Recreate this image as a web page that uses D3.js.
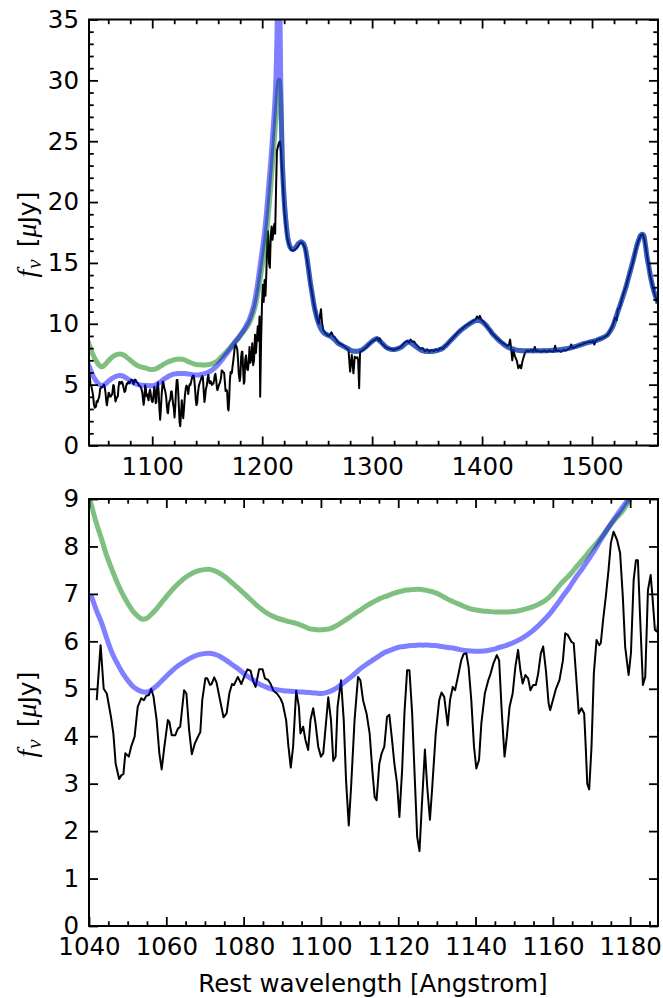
<!DOCTYPE html>
<html>
<head>
<meta charset="utf-8">
<script src="https://cdn.jsdelivr.net/npm/d3@7"></script>
<style>
  html, body { margin: 0; padding: 0; background: #fff; }
  svg { display: block; }
  text { font-family: "DejaVu Sans", sans-serif; fill: #000; }
</style>
</head>
<body>
<svg id="chart" width="663" height="998"></svg>
<script>
// Observed spectrum: [rest wavelength (Angstrom), f_nu (microJy)]
const observed = [
  [1042.0,4.76],[1043.0,5.92],[1043.8,5.00],[1044.6,4.90],[1045.7,4.40],[1046.3,4.06],[1046.9,3.42],
  [1047.8,3.10],[1048.4,3.18],[1048.9,3.20],[1049.4,3.64],[1050.3,3.57],[1050.9,3.78],[1051.8,3.99],
  [1052.6,4.62],[1053.5,4.80],[1054.2,4.76],[1054.8,4.85],[1055.5,4.87],[1056.1,5.00],[1056.7,4.83],
  [1057.5,4.34],[1058.2,3.64],[1058.8,3.30],[1059.5,3.78],[1060.4,4.34],[1060.8,4.30],[1061.4,4.02],
  [1062.3,4.02],[1063.0,4.16],[1063.6,4.20],[1064.6,4.97],[1065.2,4.90],[1065.9,4.13],[1066.6,3.62],
  [1067.4,3.85],[1068.2,3.99],[1068.8,4.09],[1069.3,4.76],[1070.1,5.22],[1070.6,5.22],[1071.3,5.08],
  [1071.7,5.10],[1072.4,5.24],[1073.0,5.13],[1073.9,4.76],[1074.8,4.40],[1075.6,4.48],[1076.3,4.90],
  [1077.0,5.10],[1077.5,5.08],[1078.5,5.25],[1079.4,5.10],[1080.3,5.29],[1081.0,5.41],[1081.8,5.38],
  [1082.5,5.15],[1083.1,5.04],[1084.0,5.41],[1084.9,5.41],[1085.5,5.22],[1086.4,5.18],[1087.0,5.10],
  [1087.7,4.96],[1088.6,4.90],[1089.5,4.80],[1090.1,4.69],[1091.0,4.34],[1091.6,3.78],[1092.2,3.34],
  [1092.8,3.78],[1093.6,4.96],[1094.3,4.62],[1094.7,4.06],[1095.4,4.20],[1096.0,3.92],[1096.7,3.71],
  [1097.3,4.34],[1098.0,4.59],[1098.6,4.27],[1099.3,3.78],[1100.0,3.57],[1100.6,3.64],[1101.3,4.27],
  [1101.9,4.82],[1102.6,4.34],[1103.2,3.48],[1103.8,3.57],[1104.3,4.62],[1105.2,5.18],[1105.9,4.34],
  [1106.5,3.07],[1107.2,2.12],[1107.8,2.93],[1108.7,4.34],[1109.6,5.25],[1110.2,5.18],[1110.9,4.76],
  [1111.8,4.48],[1112.6,4.06],[1113.3,3.28],[1113.9,2.72],[1114.4,2.65],[1115.1,3.42],[1115.7,3.64],
  [1116.4,3.78],[1117.1,4.41],[1117.7,4.45],[1118.4,3.92],[1119.0,3.42],[1119.7,3.00],[1120.3,2.30],
  [1121.0,3.28],[1121.6,4.48],[1122.3,5.39],[1122.9,5.39],[1123.6,4.48],[1124.3,3.07],[1124.9,1.88],
  [1125.5,1.58],[1126.0,2.37],[1126.9,3.72],[1127.5,2.93],[1128.2,2.24],[1128.8,2.93],[1129.7,4.06],
  [1130.6,4.76],[1131.2,4.92],[1131.9,4.83],[1132.8,4.23],[1133.4,4.76],[1134.1,5.04],[1134.7,4.97],
  [1135.6,5.32],[1136.3,5.60],[1136.9,5.73],[1137.6,5.75],[1138.2,5.46],[1138.9,4.76],[1139.6,3.78],
  [1140.2,3.32],[1140.9,3.50],[1141.5,4.27],[1142.4,4.90],[1143.3,5.18],[1143.9,5.32],[1144.6,5.53],
  [1145.5,5.71],[1146.1,5.60],[1146.8,4.48],[1147.5,3.57],[1148.1,3.99],[1148.8,4.62],[1149.6,4.90],
  [1150.3,5.46],[1151.0,5.82],[1151.6,5.39],[1152.2,5.11],[1152.9,5.29],[1153.6,5.22],[1154.2,4.97],
  [1154.9,5.08],[1155.6,5.08],[1156.2,5.32],[1156.9,5.75],[1157.5,5.89],[1158.2,5.39],[1158.9,4.69],
  [1159.3,4.55],[1160.0,4.76],[1160.8,5.00],[1161.7,5.18],[1162.6,5.60],[1163.2,6.17],[1163.9,6.13],
  [1164.8,5.99],[1165.4,5.96],[1166.1,5.18],[1166.7,4.48],[1167.4,4.59],[1168.1,4.48],[1168.5,3.78],
  [1168.9,3.00],[1169.4,2.88],[1170.0,3.78],[1170.6,5.32],[1171.3,6.03],[1172.0,5.92],[1172.4,5.96],
  [1173.0,6.45],[1173.7,6.94],[1174.4,7.50],[1175.0,8.07],[1175.7,8.31],[1176.6,8.14],[1177.4,7.86],
  [1178.1,6.94],[1178.7,5.89],[1179.6,5.29],[1180.2,5.75],[1180.9,7.29],[1181.5,7.71],[1182.0,7.71],
  [1182.6,6.45],[1183.3,5.08],[1183.9,5.25],[1184.6,7.08],[1185.3,7.40],[1185.7,7.01],[1186.4,6.24],
  [1187.0,6.20],[1187.8,6.90],[1188.5,8.10],[1189.3,6.80],[1190.3,7.20],[1191.0,8.40],[1191.8,6.60],
  [1192.6,7.00],[1193.5,9.10],[1194.3,7.60],[1195.2,8.80],[1196.0,9.80],[1196.8,8.60],[1197.6,10.6],
  [1198.2,4.00],[1199.0,8.50],[1199.8,11.5],[1200.6,13.2],[1201.4,11.8],[1202.2,13.6],[1203.0,12.3],
  [1203.8,14.2],[1204.6,16.8],[1205.4,17.6],[1206.2,15.0],[1207.0,14.6],[1207.8,17.2],[1208.6,18.0],
  [1209.4,16.9],[1210.2,17.6],[1211.0,18.2],[1211.8,17.4],[1212.6,21.0],[1213.4,24.2],[1214.5,24.6],
  [1215.4,24.9],[1216.2,25.0],[1217.0,24.3],[1218.5,22.0],[1220.0,19.5],[1221.2,18.3],[1222.5,17.2],
  [1224.0,16.6],[1226.0,16.1],[1228.0,16.0],[1230.0,16.1],[1232.0,16.3],[1234.0,16.6],[1236.0,16.7],
  [1237.5,16.5],[1239.0,16.2],[1240.5,15.4],[1242.3,14.4],[1244.0,13.2],[1245.4,12.5],[1247.0,11.6],
  [1248.5,11.0],[1250.0,10.4],[1251.5,10.0],[1252.5,10.6],[1253.5,11.2],[1254.3,10.2],[1255.5,9.5],
  [1257.0,9.3],[1259.0,9.1],[1261.0,9.0],[1263.0,9.3],[1264.5,9.0],[1266.0,8.9],[1268.0,8.6],
  [1270.0,8.4],[1272.0,8.3],[1274.0,8.2],[1276.0,8.05],[1277.5,7.95],[1278.5,7.85],[1280.0,6.07],
  [1281.5,7.44],[1283.0,5.93],[1284.2,7.30],[1285.5,7.20],[1286.5,7.25],[1287.3,7.00],[1288.2,4.70],
  [1289.0,7.70],[1291.0,7.80],[1293.0,7.95],[1295.0,8.10],[1297.0,8.30],[1299.0,8.50],[1301.0,8.60],
  [1303.0,8.70],[1304.6,8.85],[1306.0,8.60],[1307.0,8.80],[1308.5,8.40],[1310.0,8.30],[1312.0,8.10],
  [1314.0,8.00],[1316.0,7.95],[1318.0,7.90],[1320.0,7.85],[1322.0,7.95],[1324.0,8.00],[1326.0,8.10],
  [1328.0,8.30],[1330.0,8.50],[1332.0,8.60],[1333.5,8.45],[1335.0,8.70],[1336.5,8.50],[1338.0,8.55],
  [1340.0,8.30],[1342.0,8.10],[1344.0,7.95],[1346.0,8.00],[1348.0,7.75],[1350.0,7.90],[1352.0,7.70],
  [1354.0,7.85],[1356.0,7.75],[1358.0,7.90],[1360.0,7.80],[1362.0,8.00],[1364.0,7.95],[1366.0,8.15],
  [1368.0,8.30],[1370.0,8.50],[1372.0,8.70],[1374.0,8.90],[1376.0,9.10],[1378.0,9.30],[1380.0,9.45],
  [1382.0,9.60],[1384.0,9.75],[1386.0,9.90],[1388.0,10.0],[1390.0,10.1],[1392.0,10.25],[1394.0,10.35],
  [1395.5,10.6],[1397.0,10.4],[1398.0,10.65],[1399.5,10.3],[1401.0,10.2],[1403.0,9.95],[1405.0,9.70],
  [1407.0,9.50],[1409.0,9.20],[1411.0,9.05],[1413.0,8.85],[1415.0,8.70],[1417.0,8.55],[1419.0,8.40],
  [1421.0,8.30],[1423.0,8.15],[1424.5,8.30],[1425.5,8.70],[1426.5,7.90],[1427.5,7.00],[1428.5,7.85],
  [1430.0,7.30],[1431.5,7.00],[1433.0,6.34],[1434.5,6.60],[1435.5,6.34],[1437.0,7.03],[1439.0,7.60],
  [1440.6,7.80],[1443.0,7.75],[1445.0,7.85],[1446.5,7.70],[1448.0,8.10],[1449.0,7.75],[1451.0,7.80],
  [1453.0,7.70],[1455.0,7.75],[1457.0,7.80],[1459.0,7.70],[1461.0,7.80],[1463.0,7.75],[1465.0,7.70],
  [1466.5,8.20],[1467.5,7.75],[1470.0,7.80],[1472.0,7.70],[1474.0,7.85],[1476.0,7.80],[1478.0,7.90],
  [1480.0,8.00],[1481.0,8.30],[1482.5,8.00],[1485.0,8.10],[1487.0,8.20],[1489.0,8.25],[1491.0,8.30],
  [1493.0,8.40],[1495.0,8.45],[1497.0,8.50],[1499.0,8.50],[1501.0,8.60],[1502.0,8.30],[1503.5,8.60],
  [1505.0,8.70],[1507.0,8.75],[1509.0,8.80],[1511.0,8.90],[1513.0,9.00],[1515.0,9.20],[1517.0,9.50],
  [1519.0,9.90],[1521.0,10.5],[1522.5,10.3],[1523.5,11.2],[1525.0,11.3],[1527.0,12.0],[1529.0,12.6],
  [1531.0,13.1],[1533.0,13.8],[1535.0,14.4],[1537.0,15.0],[1539.0,15.8],[1541.0,16.5],[1543.0,17.0],
  [1544.5,17.3],[1546.0,17.35],[1547.5,17.0],[1549.0,16.2],[1551.0,15.0],[1553.0,13.9],[1555.0,13.1],
  [1557.0,12.4],[1559.0,11.9],[1560.0,11.6]
];

// Model continuum + emission lines redward of Lyman alpha (shared by both predictions)
const redModel = [
  [1217.0,28.0],[1218.5,22.9],[1220.0,20.2],[1221.2,18.8],[1222.5,17.6],[1223.8,16.8],[1225.5,16.3],
  [1227.7,16.1],[1230.8,16.3],[1233.0,16.6],[1235.4,16.75],[1237.5,16.6],[1239.2,16.2],[1240.8,15.4],
  [1242.3,14.4],[1243.8,13.4],[1245.4,12.5],[1246.8,11.7],[1248.1,11.1],[1250.0,10.4],[1251.9,9.9],
  [1254.0,9.5],[1256.9,9.2],[1260.0,9.05],[1263.5,8.9],[1266.5,8.65],[1269.2,8.4],[1272.0,8.25],
  [1275.0,8.1],[1278.0,7.95],[1280.8,7.8],[1283.5,7.75],[1286.5,7.75],[1289.5,7.8],[1292.3,7.95],
  [1295.5,8.2],[1299.2,8.5],[1302.0,8.7],[1304.6,8.77],[1307.0,8.6],[1309.6,8.36],[1312.5,8.1],
  [1315.4,7.95],[1318.5,7.88],[1321.2,7.9],[1324.0,7.98],[1326.9,8.1],[1330.0,8.35],[1332.7,8.5],
  [1335.0,8.45],[1336.5,8.36],[1339.5,8.15],[1342.3,7.95],[1345.0,7.82],[1348.0,7.75],[1352.0,7.72],
  [1355.8,7.75],[1359.5,7.82],[1363.5,7.95],[1367.5,8.25],[1371.2,8.6],[1375.0,8.95],[1378.8,9.3],
  [1382.5,9.6],[1386.5,9.86],[1389.5,10.05],[1392.3,10.2],[1395.0,10.26],[1398.0,10.27],[1401.0,10.1],
  [1403.8,9.86],[1406.5,9.55],[1409.6,9.18],[1412.5,8.9],[1415.4,8.63],[1418.5,8.4],[1421.2,8.2],
  [1424.0,8.05],[1426.9,7.95],[1430.5,7.86],[1434.6,7.8],[1440.0,7.78],[1446.2,7.78],[1453.0,7.78],
  [1461.5,7.8],[1469.0,7.85],[1476.9,7.95],[1484.5,8.12],[1492.3,8.36],[1498.0,8.5],[1503.8,8.63],
  [1508.5,8.8],[1513.5,9.04],[1516.5,9.4],[1519.2,9.86],[1522.0,10.6],[1525.0,11.4],[1528.0,12.2],
  [1530.8,13.0],[1533.5,13.9],[1536.5,14.9],[1538.5,15.6],[1540.4,16.3],[1542.3,16.85],[1544.2,17.26],
  [1545.6,17.35],[1546.9,17.26],[1548.5,16.5],[1550.0,15.5],[1552.0,14.5],[1553.8,13.6],[1556.5,12.6],
  [1559.6,11.8],[1560.0,11.7]
];

// Green prediction blueward of Lyman alpha
const greenBlue = [
  [1040.2,9.00],[1041.7,8.55],[1043.3,8.14],[1044.6,7.80],[1046.0,7.50],[1047.4,7.22],[1048.8,6.98],
  [1050.2,6.78],[1051.5,6.62],[1052.6,6.53],[1053.7,6.47],[1054.8,6.48],[1055.9,6.55],[1057.2,6.66],
  [1058.6,6.80],[1060.2,6.96],[1061.9,7.12],[1063.5,7.25],[1065.2,7.36],[1066.8,7.44],[1068.4,7.49],
  [1070.9,7.52],[1072.4,7.49],[1073.9,7.43],[1075.5,7.34],[1077.2,7.22],[1078.9,7.10],[1080.5,6.98],
  [1082.2,6.85],[1083.8,6.73],[1085.4,6.63],[1087.0,6.55],[1088.7,6.49],[1090.3,6.45],[1092.0,6.41],
  [1093.6,6.38],[1095.2,6.33],[1096.9,6.27],[1098.3,6.25],[1099.6,6.24],[1101.0,6.25],[1102.4,6.27],
  [1104.0,6.33],[1105.6,6.41],[1107.3,6.50],[1108.9,6.59],[1110.6,6.68],[1112.2,6.77],[1113.8,6.84],
  [1115.5,6.91],[1117.2,6.96],[1118.8,7.01],[1120.5,7.05],[1122.1,7.08],[1123.7,7.09],[1125.3,7.10],
  [1127.0,7.08],[1128.6,7.05],[1130.3,7.00],[1131.9,6.93],[1133.5,6.86],[1135.2,6.80],[1136.9,6.74],
  [1138.5,6.69],[1140.2,6.66],[1141.8,6.64],[1143.4,6.63],[1145.0,6.62],[1146.7,6.62],[1148.3,6.62],
  [1150.0,6.63],[1151.6,6.65],[1153.3,6.69],[1154.9,6.73],[1156.5,6.79],[1158.2,6.87],[1159.8,6.99],
  [1161.4,7.15],[1163.0,7.29],[1164.7,7.43],[1166.3,7.59],[1168.0,7.75],[1169.6,7.91],[1171.3,8.07],
  [1173.0,8.24],[1174.6,8.42],[1176.2,8.58],[1177.9,8.73],[1180.0,9.00],[1182.3,9.28],[1184.6,9.55],
  [1188.5,10.1],[1192.3,11.0],[1195.0,12.0],[1198.0,13.6],[1201.0,15.4],[1203.8,17.4],[1205.8,19.2],
  [1207.7,21.2],[1209.6,23.4],[1211.5,25.6],[1212.5,27.0],[1213.5,28.4],[1214.5,29.5],[1215.4,30.0],
  [1216.2,29.3],[1217.0,28.0]
];

// Blue prediction blueward of Lyman alpha
const blueBlue = [
  [1040.5,6.98],[1041.9,6.66],[1043.3,6.38],[1044.6,6.06],[1046.0,5.75],[1047.4,5.52],[1048.8,5.32],
  [1050.2,5.16],[1051.5,5.04],[1052.6,4.98],[1053.7,4.94],[1054.8,4.93],[1055.9,4.96],[1057.2,5.04],
  [1058.6,5.15],[1060.2,5.28],[1061.9,5.41],[1063.5,5.51],[1065.2,5.60],[1066.8,5.67],[1068.4,5.72],
  [1070.9,5.75],[1072.4,5.73],[1073.9,5.68],[1075.5,5.60],[1077.2,5.50],[1078.9,5.40],[1080.5,5.29],
  [1082.2,5.20],[1083.8,5.11],[1085.4,5.05],[1087.0,5.00],[1088.7,4.98],[1090.3,4.96],[1092.0,4.95],
  [1093.6,4.94],[1095.3,4.93],[1097.0,4.92],[1098.6,4.91],[1100.2,4.90],[1101.8,4.93],[1103.5,4.99],
  [1105.1,5.08],[1106.7,5.18],[1108.4,5.29],[1110.0,5.41],[1111.7,5.51],[1113.3,5.60],[1115.0,5.69],
  [1116.6,5.77],[1118.2,5.82],[1119.9,5.87],[1121.5,5.89],[1123.2,5.91],[1124.8,5.92],[1126.4,5.92],
  [1128.1,5.92],[1129.7,5.91],[1131.3,5.89],[1133.0,5.87],[1134.7,5.85],[1136.3,5.82],[1138.0,5.80],
  [1139.6,5.79],[1141.2,5.79],[1142.8,5.80],[1144.5,5.83],[1146.1,5.87],[1147.8,5.91],[1149.4,5.96],
  [1151.0,6.02],[1152.7,6.10],[1154.3,6.19],[1156.0,6.31],[1157.6,6.44],[1159.3,6.59],[1160.9,6.76],
  [1162.5,6.94],[1164.2,7.13],[1165.8,7.33],[1167.5,7.52],[1169.1,7.71],[1170.8,7.92],[1172.4,8.14],
  [1174.0,8.35],[1175.7,8.56],[1177.1,8.72],[1178.4,8.87],[1180.0,9.05],[1182.3,9.35],[1184.6,9.70],
  [1188.5,10.4],[1192.3,11.5],[1195.2,12.9],[1198.0,14.7],[1200.0,16.0],[1202.0,17.4],[1204.0,19.2],
  [1205.8,21.2],[1207.8,23.3],[1209.6,25.6],[1211.0,27.4],[1212.3,29.6],[1213.3,33.0],[1214.3,37.5],
  [1215.3,40.0],[1216.0,37.0],[1216.6,32.0],[1217.2,28.0],[1218.0,24.6],[1218.5,22.9]
];

// Axis ticks for each panel
const topXMajor = [1100, 1200, 1300, 1400, 1500];
const topYMajor = [0, 5, 10, 15, 20, 25, 30, 35];
const bottomXMajor = [1040, 1060, 1080, 1100, 1120, 1140, 1160, 1180];
const bottomYMajor = [0, 1, 2, 3, 4, 5, 6, 7, 8, 9];

const xLabel = "Rest wavelength [Angstrom]";

const svg = d3.select("#chart");

// Combine the blueward part of a prediction with the shared red model
const greenFull = greenBlue.concat(redModel.filter(d => d[0] > 1217.0));
const blueFull = blueBlue.concat(redModel.filter(d => d[0] > 1218.5));

const panels = [
  {
    id: "top",
    x: d3.scaleLinear().domain([1042.5, 1560]).range([89, 658]),
    y: d3.scaleLinear().domain([0, 35]).range([445.5, 19.5]),
    xMajor: topXMajor,
    xMinor: d3.range(1060, 1560, 20).filter(v => v % 100 !== 0),
    yMajor: topYMajor,
    yMinor: d3.range(1, 35, 1).filter(v => v % 5 !== 0)
  },
  {
    id: "bottom",
    x: d3.scaleLinear().domain([1040, 1187.2]).range([89, 658]),
    y: d3.scaleLinear().domain([0, 9]).range([926, 499]),
    xMajor: bottomXMajor,
    xMinor: d3.range(1045, 1187, 5).filter(v => v % 20 !== 0),
    yMajor: bottomYMajor,
    yMinor: []
  }
];

const MAJOR = 9, MINOR = 4.7, FONT = 24.5;

panels.forEach(p => {
  const [x0, x1] = p.x.range();
  const [yb, yt] = p.y.range();
  const g = svg.append("g").attr("class", "panel-" + p.id);

  g.append("clipPath").attr("id", "clip-" + p.id)
    .append("rect").attr("x", x0).attr("y", yt).attr("width", x1 - x0).attr("height", yb - yt);

  const line = d3.line().x(d => p.x(d[0])).y(d => p.y(d[1])).curve(d3.curveLinear);
  const smooth = d3.line().x(d => p.x(d[0])).y(d => p.y(d[1])).curve(d3.curveCatmullRom.alpha(0.5));

  const plot = g.append("g").attr("clip-path", "url(#clip-" + p.id + ")");

  plot.append("path").datum(observed)
    .attr("d", line).attr("fill", "none")
    .attr("stroke", "#000").attr("stroke-width", 2).attr("stroke-linejoin", "round");

  plot.append("path").datum(greenFull)
    .attr("d", smooth).attr("fill", "none")
    .attr("stroke", "#008000").attr("stroke-opacity", 0.5)
    .attr("stroke-width", 5).attr("stroke-linejoin", "round");

  plot.append("path").datum(blueFull)
    .attr("d", smooth).attr("fill", "none")
    .attr("stroke", "#0000ff").attr("stroke-opacity", 0.5)
    .attr("stroke-width", 5).attr("stroke-linejoin", "round");

  // Inward ticks on all four sides
  const addAxis = (axisFn, scale, values, size, labels, transform, pad) => {
    const ax = axisFn(scale).tickValues(values).tickSizeInner(-size).tickSizeOuter(0)
      .tickPadding(pad || 11).tickFormat(labels ? d3.format("d") : "");
    const a = g.append("g").attr("transform", transform).call(ax);
    a.select(".domain").remove();
    a.selectAll("line").attr("stroke", "#000").attr("stroke-width", 1.8);
    a.selectAll("text").attr("font-size", FONT).attr("font-family", "DejaVu Sans").attr("fill", "#000");
    return a;
  };

  addAxis(d3.axisBottom, p.x, p.xMajor, MAJOR, true, `translate(0,${yb})`, 12);
  addAxis(d3.axisBottom, p.x, p.xMinor, MINOR, false, `translate(0,${yb})`);
  addAxis(d3.axisTop, p.x, p.xMajor, MAJOR, false, `translate(0,${yt})`);
  addAxis(d3.axisTop, p.x, p.xMinor, MINOR, false, `translate(0,${yt})`);
  addAxis(d3.axisLeft, p.y, p.yMajor, MAJOR, true, `translate(${x0},0)`, 10);
  addAxis(d3.axisRight, p.y, p.yMajor, MAJOR, false, `translate(${x1},0)`);
  if (p.yMinor.length) {
    addAxis(d3.axisLeft, p.y, p.yMinor, MINOR, false, `translate(${x0},0)`);
    addAxis(d3.axisRight, p.y, p.yMinor, MINOR, false, `translate(${x1},0)`);
  }

  g.append("rect").attr("x", x0).attr("y", yt).attr("width", x1 - x0).attr("height", yb - yt)
    .attr("fill", "none").attr("stroke", "#000").attr("stroke-width", 2);

  // y-axis label: f_nu [muJy]
  const yl = g.append("text")
    .attr("transform", `translate(36,${(yb + yt) / 2 + 2}) rotate(-90)`)
    .attr("text-anchor", "middle").attr("font-size", 25);
  yl.append("tspan").attr("font-family", "Liberation Serif").attr("font-style", "italic")
    .attr("font-size", 28).text("f");
  yl.append("tspan").attr("font-family", "Liberation Serif").attr("font-style", "italic")
    .attr("font-size", 21).attr("dx", 1).attr("dy", 5).text("ν");
  yl.append("tspan").attr("dx", 12).attr("dy", -5).text("[");
  yl.append("tspan").attr("font-family", "Liberation Serif").attr("font-style", "italic")
    .attr("font-size", 28).text("μ");
  yl.append("tspan").text("Jy]");
});

svg.append("text").attr("x", 373).attr("y", 992).attr("text-anchor", "middle")
  .attr("font-size", FONT).text(xLabel);
</script>
</body>
</html>
